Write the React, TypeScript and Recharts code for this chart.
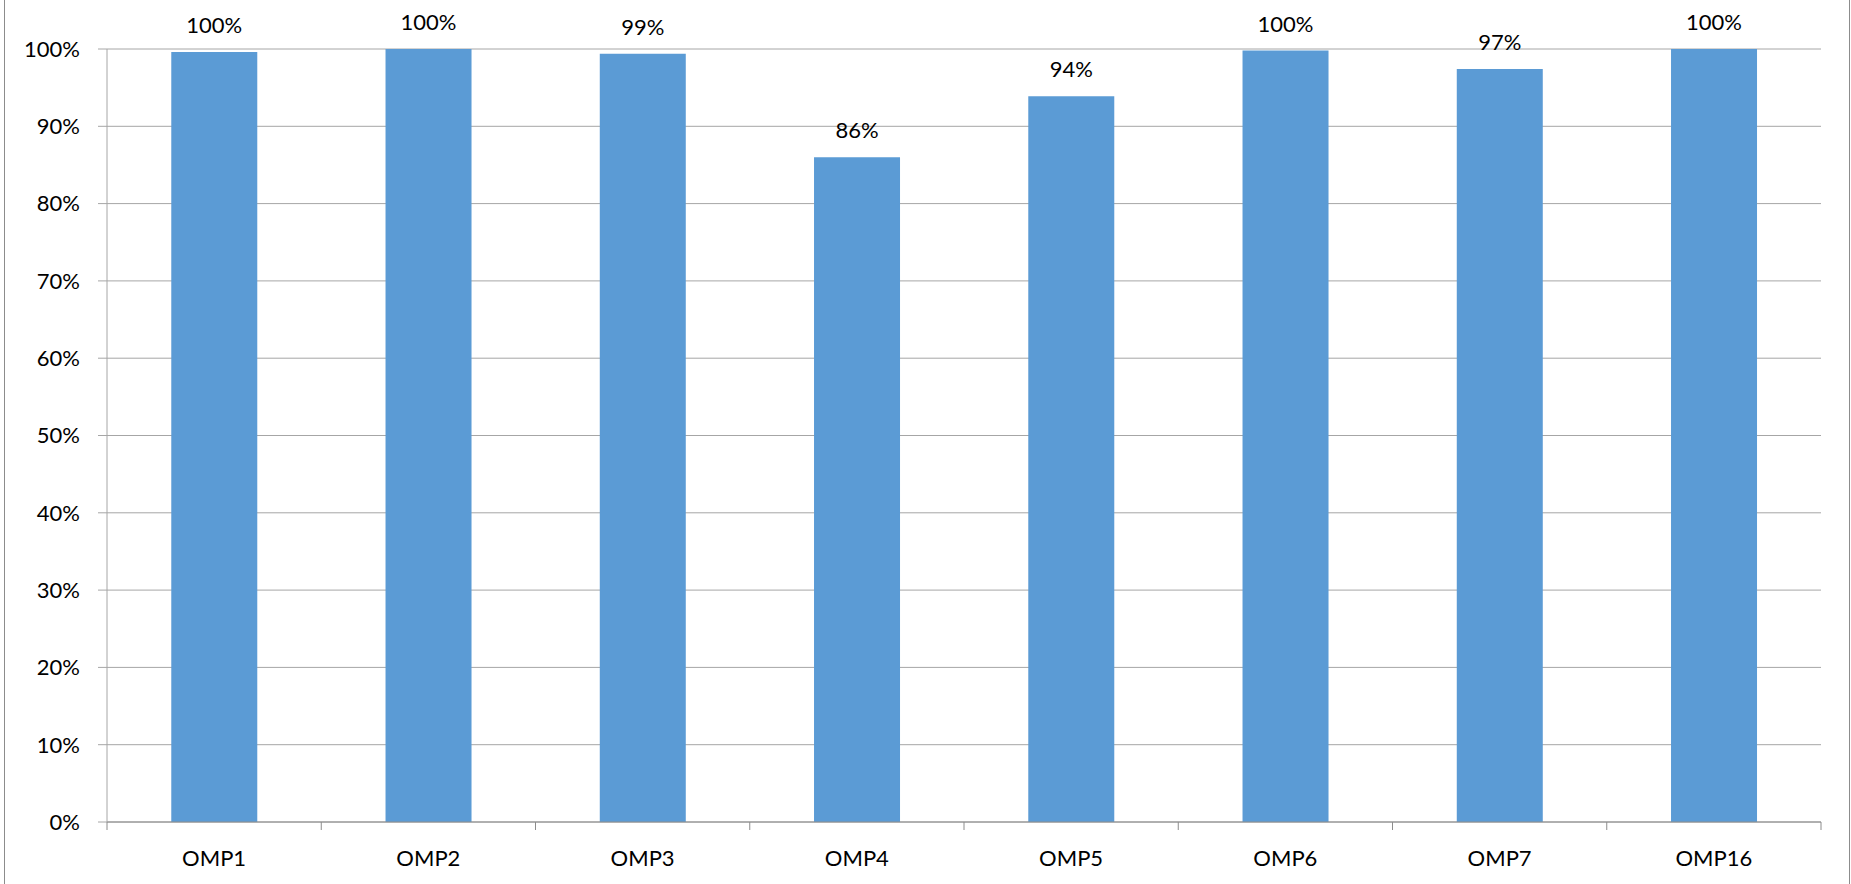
import { BarChart, Bar, XAxis, YAxis, CartesianGrid, LabelList } from 'recharts';

const categories = ['OMP1', 'OMP2', 'OMP3', 'OMP4', 'OMP5', 'OMP6', 'OMP7', 'OMP16'];
const values = [0.996, 1.0, 0.994, 0.86, 0.939, 0.998, 0.974, 1.0];
const yTicks = [0, 0.1, 0.2, 0.3, 0.4, 0.5, 0.6, 0.7, 0.8, 0.9, 1.0];

const chartData = categories.map((name, i) => ({ name, value: values[i] }));

const font = 'Lato, "Open Sans", sans-serif';
const pct = (v: any) => `${Math.round(Number(v) * 100)}%`;

// category tick: label in the middle, tick marks on the band edges (Excel style)
function CatTick(props: any) {
  const { x, y, payload, index, visibleTicksCount } = props;
  const half = payload.offset || 0;
  const top = 822;
  return (
    <g>
      <line x1={x - half} x2={x - half} y1={top} y2={top + 8} stroke="#8c8c8c" />
      {index === visibleTicksCount - 1 && (
        <line x1={x + half} x2={x + half} y1={top} y2={top + 8} stroke="#8c8c8c" />
      )}
      <text x={x} y={y} dy="0.71em" textAnchor="middle" fill="#000" fontSize={22} fontFamily={font}>
        {payload.value}
      </text>
    </g>
  );
}

export default function App() {
  return (
    <div style={{ position: 'absolute', left: 0, top: 0, width: 1851, height: 884, background: '#fff', fontFamily: font }}>
      <div style={{ position: 'absolute', left: 4, top: 0, width: 1844, height: 884, borderLeft: '1px solid #8c8c8c', borderRight: '1px solid #8c8c8c' }} />
      <BarChart
        width={1851}
        height={884}
        data={chartData}
        margin={{ top: 49, right: 30, bottom: 0, left: 0 }}
        barCategoryGap="30%"
      >
        <CartesianGrid vertical={false} stroke="#a6a6a6" />
        <XAxis
          dataKey="name"
          height={62}
          stroke="#8c8c8c"
          tickLine={false}
          tickSize={0}
          tickMargin={28}
          interval={0}
          tick={<CatTick />}
        />
        <YAxis
          width={107}
          domain={[0, 1]}
          ticks={yTicks}
          tickFormatter={pct}
          tickSize={9}
          tickMargin={18}
          stroke="#a6a6a6"
          tick={{ fill: '#000', fontSize: 22, fontFamily: font }}
        />
        <Bar dataKey="value" fill="#5b9bd5" isAnimationActive={false}>
          <LabelList
            dataKey="value"
            position="top"
            offset={19}
            formatter={pct}
            style={{ fill: '#000', fontSize: 22, fontFamily: font }}
          />
        </Bar>
      </BarChart>
    </div>
  );
}
